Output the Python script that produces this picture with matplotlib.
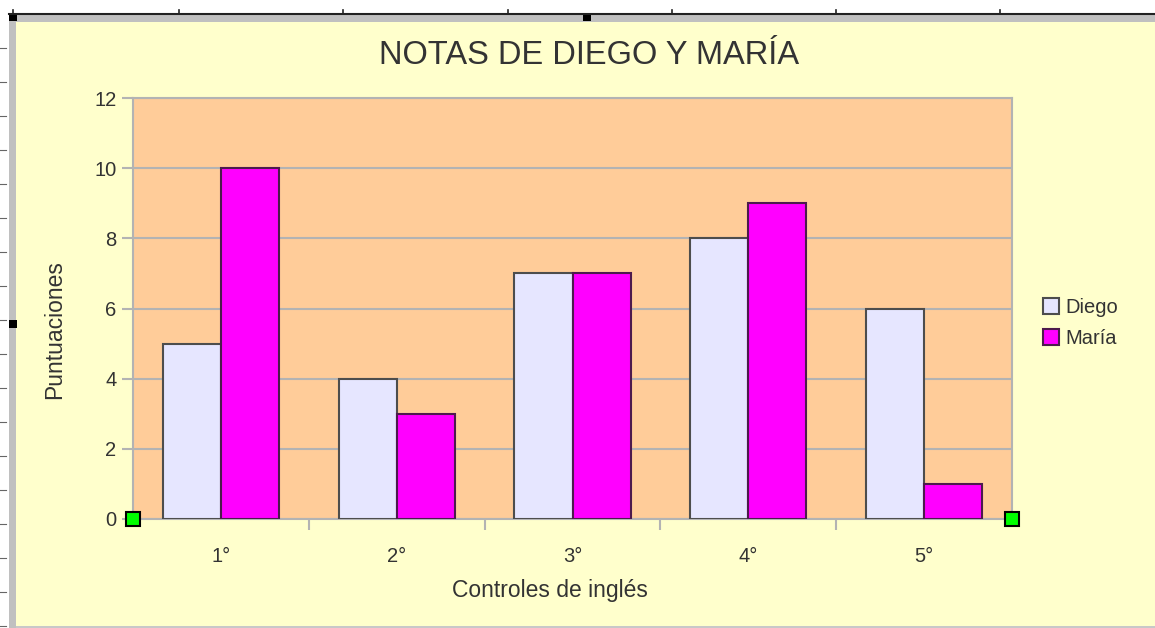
import numpy as np
import matplotlib
matplotlib.use("Agg")
import matplotlib.pyplot as plt
from matplotlib.lines import Line2D
from matplotlib.patches import Rectangle

plt.rcParams["font.family"] = ["Liberation Sans", "DejaVu Sans"]

# data
controles = ["1°", "2°", "3°", "4°", "5°"]
diego = [5, 4, 7, 8, 6]
maria = [10, 3, 7, 9, 1]
series_names = ["Diego", "María"]

W, H = 1155, 628
text_col = "#333333"
grid_col = "#b3b3b3"

fig = plt.figure(figsize=(W / 100, H / 100), dpi=100)
fig.patch.set_facecolor("#ffffcc")


def px(x0, y0, x1, y1, **kw):
    # rectangle in figure pixels (y from top), for the window frame only
    r = Rectangle((x0 / W, 1 - y1 / H), (x1 - x0) / W, (y1 - y0) / H,
                  transform=fig.transFigure, **kw)
    fig.add_artist(r)


def pline(xs, ys, **kw):
    fig.add_artist(Line2D([x / W for x in xs], [1 - y / H for y in ys],
                          transform=fig.transFigure, **kw))


# spreadsheet frame around the chart
px(0, 0, W, 13, color="white", lw=0)
px(0, 0, 9, H, color="white", lw=0)
px(9, 15, 16, H, color="#c0c0c0", lw=0)
px(9, 15, W, 22, color="#c0c0c0", lw=0)
px(16, H - 2, W, H, color="#c8c8c8", lw=0)
pline([9, W], [14, 14], color="#222222", lw=1.5)
for tx in [13, 179, 343, 508, 672, 836, 1000]:
    pline([tx, tx], [10, 14], color="#222222", lw=1.2)
for ty in range(48, H, 34):
    pline([0, 6], [ty, ty], color="#666666", lw=0.8)
px(9, 13, 17, 21, color="black", lw=0)
px(583, 13, 591, 21, color="black", lw=0)
px(9, 320, 17, 328, color="black", lw=0)

ax = fig.add_axes([133 / W, 1 - 519 / H, (1012 - 133) / W, (519 - 98) / H])
ax.set_facecolor("#ffcc99")

x = np.arange(len(controles))
w = 0.33
b1 = ax.bar(x - w / 2, diego, w, color="#e6e6ff", edgecolor="#4d4d4d",
            linewidth=1.5, label=series_names[0], zorder=3)
b2 = ax.bar(x + w / 2, maria, w, color="#ff00ff", edgecolor="#4d1a4d",
            linewidth=1.5, label=series_names[1], zorder=3)

ax.set_xlim(-0.5, len(controles) - 0.5)
ax.set_ylim(0, 12)
ax.set_yticks(np.arange(0, 13, 2))
ax.yaxis.grid(True, color=grid_col, linewidth=1.5, zorder=0)
ax.set_axisbelow(True)

ax.set_xticks(x)
ax.set_xticklabels(controles)
ax.set_xticks(np.arange(0.5, len(controles) - 0.5), minor=True)
ax.tick_params(axis="x", which="major", length=0, pad=20, labelsize=14.5,
               labelcolor=text_col)
ax.tick_params(axis="x", which="minor", length=8, width=1.5, color=grid_col)
ax.tick_params(axis="y", length=8, width=1.5, color=grid_col, pad=4,
               labelsize=14.5, labelcolor=text_col)

for s in ax.spines.values():
    s.set_color(grid_col)
    s.set_linewidth(1.5)

fig.text(589 / W, 1 - 55 / H, "NOTAS DE DIEGO Y MARÍA", fontsize=23.5,
         color=text_col, ha="center", va="center")
fig.text(550 / W, 1 - 590 / H, "Controles de inglés", fontsize=16.5,
         color=text_col, ha="center", va="center")
fig.text(55 / W, 1 - 330 / H, "Puntuaciones", fontsize=16.5,
         color=text_col, ha="center", va="center", rotation=90)

# selection handles at the axis ends
ax.plot([0, 1], [0, 0], transform=ax.transAxes, ls="none", marker="s",
        markersize=10, markerfacecolor="#00ff00", markeredgecolor="black",
        markeredgewidth=1.5, clip_on=False, zorder=5)

fig.legend(handles=[b1, b2], loc="upper left",
           bbox_to_anchor=(1043 / W, 1 - 298 / H), frameon=False,
           fontsize=14.5, handlelength=0.8, handleheight=0.8,
           handletextpad=0.3, labelspacing=0.6, labelcolor=text_col,
           borderpad=0, borderaxespad=0)

fig.savefig("out.png", dpi=100, facecolor=fig.get_facecolor())
